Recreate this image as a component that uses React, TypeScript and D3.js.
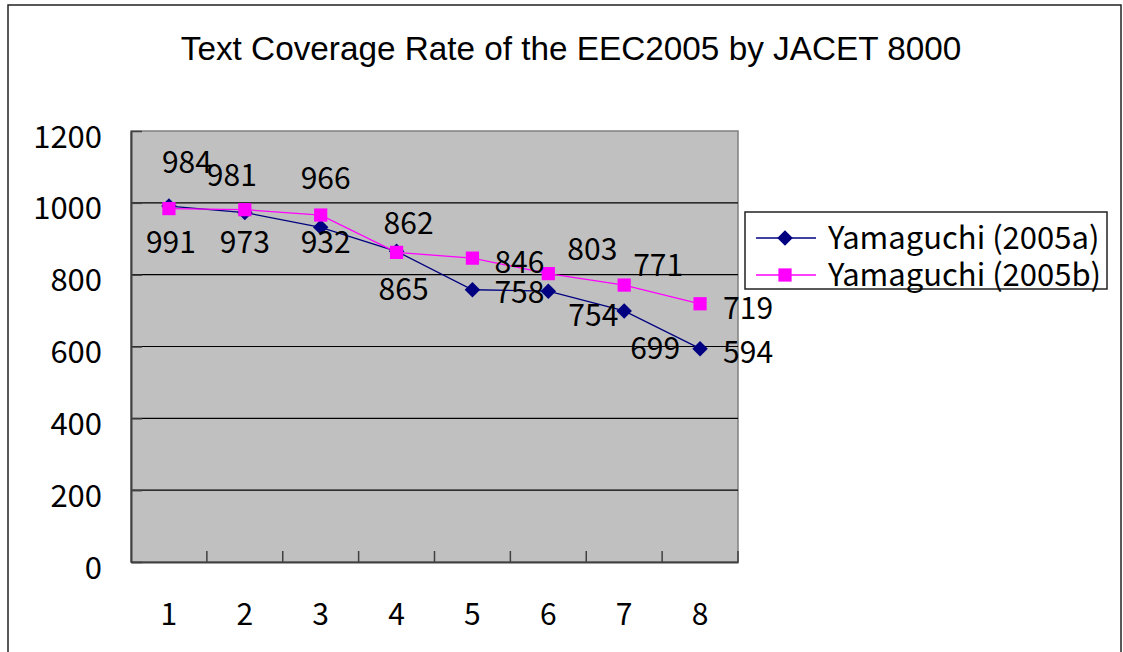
import { useEffect, useRef } from "react";
import { axisBottom, axisLeft, line, scaleBand, scaleLinear, select, symbol, symbolSquare } from "d3";

const categories = ["1", "2", "3", "4", "5", "6", "7", "8"];
const seriesA = [991, 973, 932, 865, 758, 754, 699, 594];
const seriesB = [984, 981, 966, 862, 846, 803, 771, 719];
const seriesNames = ["Yamaguchi (2005a)", "Yamaguchi (2005b)"];
const yTicks = [0, 200, 400, 600, 800, 1000, 1200];
const title = "Text Coverage Rate of the EEC2005 by JACET 8000";

// hand placed data label offsets (dx to text centre, dy to baseline)
const labelOffsetsA = [[2, 47], [0, 40], [5, 26], [7, 49], [47, 13], [45, 35], [31, 48], [48, 14]];
const labelOffsetsB = [[18, -36], [-13, -24], [5, -26], [12, -18], [47, 15], [44, -14], [34, -9], [48, 15]];

const numFont = "'Noto Sans CJK JP', sans-serif";

export default function App() {
  const ref = useRef<SVGSVGElement>(null);

  useEffect(() => {
    const width = 1123;
    const height = 652;
    const plot = { left: 131, top: 131, right: 738, bottom: 562 };

    const svg = select(ref.current);
    svg.selectAll("*").remove();
    svg.attr("width", width).attr("height", height);

    svg.append("rect").attr("width", width).attr("height", height).attr("fill", "#fff");
    svg.append("rect")
      .attr("x", 8).attr("y", 5)
      .attr("width", 1113).attr("height", 660)
      .attr("fill", "none").attr("stroke", "#222").attr("stroke-width", 1.5);

    svg.append("text")
      .attr("x", 571).attr("y", 60)
      .attr("text-anchor", "middle")
      .style("font-family", "'Liberation Sans', Arial, sans-serif")
      .style("font-size", "33.3px")
      .text(title);

    const x = scaleBand().domain(categories).range([plot.left, plot.right]).padding(0);
    const y = scaleLinear().domain([0, 1200]).range([plot.bottom, plot.top]);
    const cx = (c: string) => (x(c) as number) + x.bandwidth() / 2;

    svg.append("rect")
      .attr("x", plot.left).attr("y", plot.top)
      .attr("width", plot.right - plot.left).attr("height", plot.bottom - plot.top)
      .attr("fill", "#c0c0c0").attr("stroke", "#808080").attr("stroke-width", 1.5);

    svg.append("g").selectAll("line")
      .data(yTicks.slice(1, -1))
      .enter().append("line")
      .attr("x1", plot.left).attr("x2", plot.right)
      .attr("y1", d => y(d)).attr("y2", d => y(d))
      .attr("stroke", "#000").attr("stroke-width", 1.2);

    const yAxis = svg.append("g")
      .attr("transform", `translate(${plot.left},0)`)
      .call(axisLeft(y).tickValues(yTicks).tickFormat(d => String(d))
        .tickSizeInner(-11).tickSizeOuter(0).tickPadding(29));
    yAxis.select(".domain").attr("stroke", "#404040").attr("stroke-width", 2);
    yAxis.selectAll(".tick line").attr("stroke", "#404040").attr("stroke-width", 1.5);
    yAxis.selectAll(".tick text")
      .attr("dy", "0.52em")
      .style("font-family", numFont)
      .style("font-size", "31px")
      .attr("fill", "#000");

    const xAxis = svg.append("g")
      .attr("transform", `translate(0,${plot.bottom})`)
      .call(axisBottom(x).tickSize(0).tickPadding(63));
    xAxis.select(".domain").attr("stroke", "#404040").attr("stroke-width", 2);
    xAxis.selectAll(".tick text")
      .attr("dy", "0")
      .style("font-family", numFont)
      .style("font-size", "30px")
      .attr("fill", "#000");

    svg.append("g").selectAll("line")
      .data(categories.slice(1).concat(["end"]))
      .enter().append("line")
      .attr("x1", d => d === "end" ? plot.right : (x(d) as number))
      .attr("x2", d => d === "end" ? plot.right : (x(d) as number))
      .attr("y1", plot.bottom).attr("y2", plot.bottom - 11)
      .attr("stroke", "#404040").attr("stroke-width", 1.5);

    const series = [
      { values: seriesA, color: "#000080", size: 120, rotate: 45, offsets: labelOffsetsA },
      { values: seriesB, color: "#ff00ff", size: 175, rotate: 0, offsets: labelOffsetsB },
    ];

    const lineGen = line<number>()
      .x((_, i) => cx(categories[i]))
      .y(d => y(d));

    series.forEach(s => {
      svg.append("path")
        .datum(s.values)
        .attr("d", lineGen)
        .attr("fill", "none")
        .attr("stroke", s.color)
        .attr("stroke-width", 1.3);
      svg.append("g").selectAll("path")
        .data(s.values)
        .enter().append("path")
        .attr("d", symbol().type(symbolSquare).size(s.size)())
        .attr("transform", (d, i) => `translate(${cx(categories[i])},${y(d)}) rotate(${s.rotate})`)
        .attr("fill", s.color);
    });

    series.forEach(s => {
      svg.append("g").selectAll("text")
        .data(s.values)
        .enter().append("text")
        .attr("x", (d, i) => cx(categories[i]) + s.offsets[i][0])
        .attr("y", (d, i) => y(d) + s.offsets[i][1])
        .attr("text-anchor", "middle")
        .style("font-family", numFont)
        .style("font-size", "30px")
        .text(d => d);
    });

    // legend
    const legend = svg.append("g").attr("transform", "translate(745,212)");
    legend.append("rect")
      .attr("width", 362).attr("height", 77)
      .attr("fill", "#fff").attr("stroke", "#222").attr("stroke-width", 1.5);
    series.forEach((s, i) => {
      const ly = 26 + i * 37;
      legend.append("line")
        .attr("x1", 11).attr("x2", 71).attr("y1", ly).attr("y2", ly)
        .attr("stroke", s.color).attr("stroke-width", 1.3);
      legend.append("path")
        .attr("d", symbol().type(symbolSquare).size(s.size)())
        .attr("transform", `translate(40,${ly}) rotate(${s.rotate})`)
        .attr("fill", s.color);
      legend.append("text")
        .attr("x", 83).attr("y", ly + 11)
        .style("font-family", numFont)
        .style("font-size", "31px")
        .text(seriesNames[i]);
    });
  }, []);

  return <svg ref={ref} style={{ position: "absolute", left: 0, top: 0 }} />;
}
